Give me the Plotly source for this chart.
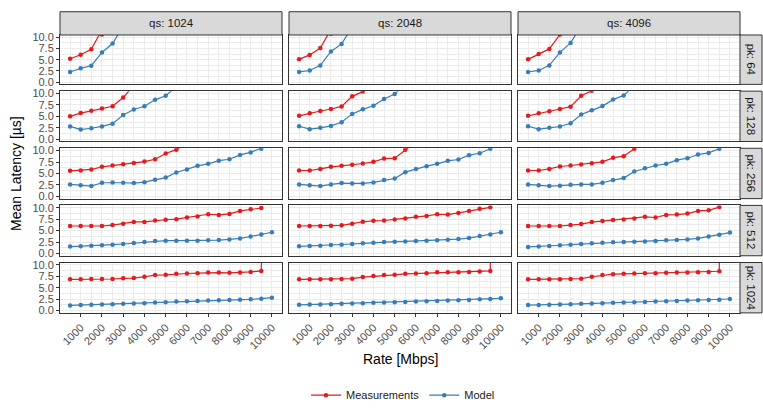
import plotly.graph_objects as go

# ---------------- data ----------------
rate = [500, 1000, 1500, 2000, 2500, 3000, 3500, 4000, 4500, 5000,
        5500, 6000, 6500, 7000, 7500, 8000, 8500, 9000, 9500, 10000]
rate_ticks = [1000, 2000, 3000, 4000, 5000, 6000, 7000, 8000, 9000, 10000]
qs_labels = ["qs: 1024", "qs: 2048", "qs: 4096"]
pk_labels = ["pk: 64", "pk: 128", "pk: 256", "pk: 512", "pk: 1024"]
series_names = ["Measurements", "Model"]

# pk 64
meas_pk64_qs1024 = [5.2, 6.1, 7.3, 10.6, 14.0, 17.5, 21.0, 25.0, 29.0, 33.0, 37.0, 41.0, 45.0, 50.0, 55.0, 60.0, 65.0, 70.0, 76.0, 82.0]
model_pk64_qs1024 = [2.25, 3.1, 3.66, 6.6, 8.6, 11.8, 14.5, 17.5, 20.5, 24.0, 27.5, 31.0, 35.0, 39.0, 43.0, 47.0, 51.0, 56.0, 61.0, 66.0]
meas_pk64_qs2048 = [5.07, 6.06, 7.6, 10.8, 14.0, 17.5, 21.0, 25.0, 29.0, 33.0, 37.0, 41.0, 45.0, 50.0, 55.0, 60.0, 65.0, 70.0, 76.0, 82.0]
model_pk64_qs2048 = [2.25, 2.6, 3.73, 6.83, 8.52, 11.4, 14.5, 17.5, 20.5, 24.0, 27.5, 31.0, 35.0, 39.0, 43.0, 47.0, 51.0, 56.0, 61.0, 66.0]
meas_pk64_qs4096 = [5.07, 6.27, 7.4, 10.6, 14.0, 17.5, 21.0, 25.0, 29.0, 33.0, 37.0, 41.0, 45.0, 50.0, 55.0, 60.0, 65.0, 70.0, 76.0, 82.0]
model_pk64_qs4096 = [2.25, 2.6, 3.73, 6.62, 8.73, 11.7, 14.5, 17.5, 20.5, 24.0, 27.5, 31.0, 35.0, 39.0, 43.0, 47.0, 51.0, 56.0, 61.0, 66.0]
# pk 128
meas_pk128_qs1024 = [5.0, 5.7, 6.2, 6.7, 7.2, 9.1, 11.3, 13.5, 16.0, 18.5, 21.0, 24.0, 27.0, 30.0, 33.0, 36.0, 40.0, 44.0, 48.0, 52.0]
model_pk128_qs1024 = [2.8, 2.1, 2.4, 2.8, 3.4, 5.3, 6.5, 7.2, 8.6, 9.5, 11.5, 13.0, 14.5, 16.0, 18.0, 20.0, 22.0, 24.0, 26.0, 28.0]
meas_pk128_qs2048 = [5.1, 5.67, 6.17, 6.6, 7.16, 9.36, 10.4, 12.0, 14.5, 17.0, 19.5, 22.0, 25.0, 28.0, 31.0, 34.0, 38.0, 42.0, 46.0, 50.0]
model_pk128_qs2048 = [2.84, 2.2, 2.48, 2.9, 3.69, 5.53, 6.52, 7.3, 8.8, 9.86, 12.1, 13.5, 15.0, 16.5, 18.5, 20.5, 22.5, 24.5, 26.5, 28.5]
meas_pk128_qs4096 = [5.1, 5.67, 6.1, 6.6, 7.1, 9.5, 10.6, 12.5, 15.0, 17.5, 20.0, 23.0, 26.0, 29.0, 32.0, 35.0, 39.0, 43.0, 47.0, 51.0]
model_pk128_qs4096 = [2.84, 2.2, 2.48, 2.77, 3.48, 5.39, 6.31, 7.23, 8.65, 9.57, 11.7, 13.0, 14.5, 16.0, 18.0, 20.0, 22.0, 24.0, 26.0, 28.0]
# pk 256
meas_pk256_qs1024 = [5.58, 5.65, 5.87, 6.45, 6.74, 7.03, 7.3, 7.6, 8.1, 9.35, 10.2, 11.3, 12.5, 14.0, 15.5, 17.0, 19.0, 21.0, 23.0, 25.0]
model_pk256_qs1024 = [2.6, 2.4, 2.25, 2.97, 3.04, 2.97, 2.9, 3.1, 3.6, 4.1, 5.2, 5.87, 6.67, 7.1, 7.8, 8.1, 9.05, 9.6, 10.4, 11.5]
meas_pk256_qs2048 = [5.65, 5.65, 6.0, 6.45, 6.67, 6.88, 7.17, 7.54, 8.26, 8.33, 10.2, 12.0, 13.5, 15.0, 16.5, 18.0, 20.0, 22.0, 24.0, 26.0]
model_pk256_qs2048 = [2.6, 2.4, 2.25, 2.6, 2.9, 2.83, 2.83, 3.04, 3.55, 3.9, 5.29, 6.0, 6.6, 7.1, 7.75, 8.04, 9.0, 9.42, 10.4, 11.8]
meas_pk256_qs4096 = [5.65, 5.65, 6.0, 6.52, 6.74, 6.96, 7.25, 7.54, 8.41, 8.77, 10.4, 12.5, 14.0, 15.5, 17.0, 18.5, 20.5, 22.5, 24.5, 26.5]
model_pk256_qs4096 = [2.6, 2.4, 2.25, 2.32, 2.54, 2.6, 2.6, 2.97, 3.55, 3.99, 5.43, 6.16, 6.74, 7.1, 7.9, 8.33, 9.13, 9.49, 10.4, 11.8]
# pk 512
meas_pk512_qs1024 = [6.0, 6.0, 6.0, 6.0, 6.2, 6.5, 6.9, 6.9, 7.2, 7.36, 7.5, 7.86, 8.07, 8.57, 8.43, 8.64, 9.3, 9.64, 9.93, None]
model_pk512_qs1024 = [1.5, 1.57, 1.71, 1.79, 1.93, 2.07, 2.29, 2.5, 2.71, 2.79, 2.79, 2.79, 2.79, 2.86, 2.93, 3.07, 3.29, 3.71, 4.14, 4.64]
meas_pk512_qs2048 = [6.0, 6.0, 6.0, 6.07, 6.14, 6.5, 6.93, 7.14, 7.2, 7.43, 7.64, 8.0, 8.2, 8.57, 8.5, 8.86, 9.29, 9.79, 10.07, None]
model_pk512_qs2048 = [1.57, 1.64, 1.71, 1.86, 1.93, 2.07, 2.21, 2.36, 2.5, 2.57, 2.64, 2.71, 2.79, 2.86, 3.0, 3.14, 3.36, 3.79, 4.14, 4.64]
meas_pk512_qs4096 = [6.0, 6.0, 6.0, 6.0, 6.21, 6.43, 6.86, 7.07, 7.29, 7.43, 7.64, 8.0, 7.86, 8.43, 8.5, 8.71, 9.29, 9.43, 10.14, None]
model_pk512_qs4096 = [1.43, 1.5, 1.64, 1.79, 1.93, 2.07, 2.21, 2.36, 2.43, 2.5, 2.57, 2.64, 2.71, 2.86, 2.93, 3.07, 3.29, 3.71, 4.07, 4.57]
# pk 1024
meas_pk1024_qs1024 = [6.83, 6.83, 6.9, 6.9, 6.9, 7.04, 7.1, 7.39, 7.75, 7.82, 8.03, 8.1, 8.17, 8.3, 8.3, 8.24, 8.3, 8.45, 8.66, 400.0]
model_pk1024_qs1024 = [1.13, 1.2, 1.27, 1.34, 1.41, 1.48, 1.55, 1.62, 1.76, 1.83, 1.97, 2.04, 2.11, 2.18, 2.25, 2.32, 2.39, 2.46, 2.6, 2.82]
meas_pk1024_qs2048 = [6.83, 6.83, 6.83, 6.83, 6.9, 6.97, 7.32, 7.54, 7.75, 7.82, 8.03, 8.1, 8.17, 8.38, 8.38, 8.38, 8.45, 8.52, 8.66, 400.0]
model_pk1024_qs2048 = [1.27, 1.34, 1.34, 1.41, 1.48, 1.55, 1.62, 1.69, 1.76, 1.83, 1.9, 1.97, 2.04, 2.11, 2.18, 2.25, 2.32, 2.46, 2.53, 2.68]
meas_pk1024_qs4096 = [6.83, 6.83, 6.83, 6.83, 6.9, 6.97, 7.39, 7.75, 7.96, 8.03, 8.1, 8.17, 8.17, 8.24, 8.31, 8.31, 8.38, 8.45, 8.59, 400.0]
model_pk1024_qs4096 = [1.2, 1.2, 1.27, 1.34, 1.41, 1.48, 1.55, 1.62, 1.69, 1.76, 1.83, 1.9, 1.97, 2.04, 2.11, 2.18, 2.25, 2.32, 2.39, 2.53]

meas = [
    [meas_pk64_qs1024, meas_pk64_qs2048, meas_pk64_qs4096],
    [meas_pk128_qs1024, meas_pk128_qs2048, meas_pk128_qs4096],
    [meas_pk256_qs1024, meas_pk256_qs2048, meas_pk256_qs4096],
    [meas_pk512_qs1024, meas_pk512_qs2048, meas_pk512_qs4096],
    [meas_pk1024_qs1024, meas_pk1024_qs2048, meas_pk1024_qs4096],
]
model = [
    [model_pk64_qs1024, model_pk64_qs2048, model_pk64_qs4096],
    [model_pk128_qs1024, model_pk128_qs2048, model_pk128_qs4096],
    [model_pk256_qs1024, model_pk256_qs2048, model_pk256_qs4096],
    [model_pk512_qs1024, model_pk512_qs2048, model_pk512_qs4096],
    [model_pk1024_qs1024, model_pk1024_qs2048, model_pk1024_qs4096],
]

# ---------------- layout geometry (pixels) ----------------
W, H = 763, 410
cols_px = [(60, 282), (289, 511), (518, 740)]
rows_px = [(32, 83), (90, 142), (149, 201), (208, 260), (267, 319)]
strip_top = (8, 32)
strip_right = (740, 762)

RED = "#E41A1C"
BLUE = "#377EB8"
FONT = "Liberation Sans, Arial, sans-serif"

fig = go.Figure()
layout = dict(
    width=W, height=H, margin=dict(l=0, r=0, t=0, b=0),
    paper_bgcolor="white", plot_bgcolor="white",
    font=dict(family=FONT, size=11, color="#4D4D4D"),
    showlegend=True,
    legend=dict(orientation="h", x=403 / W, xanchor="center", y=1 - 404 / H, yanchor="middle",
                font=dict(size=11, color="#1A1A1A"), itemwidth=30, tracegroupgap=0,
                bgcolor="rgba(0,0,0,0)"),
)
shapes = []
annotations = []

for r in range(5):
    for c in range(3):
        n = r * 3 + 1 + c
        xs = "" if n == 1 else str(n)
        xd = [cols_px[c][0] / W, cols_px[c][1] / W]
        yd = [1 - rows_px[r][1] / H, 1 - rows_px[r][0] / H]
        bottom = (r == 4)
        left = (c == 0)
        layout["xaxis" + xs] = dict(
            domain=xd, anchor="y" + xs, range=[25, 10475],
            tickmode="array", tickvals=rate_ticks, ticktext=[str(v) for v in rate_ticks],
            showticklabels=bottom, ticks="outside" if bottom else "", ticklen=3,
            tickcolor="#333333", tickangle=-45, tickfont=dict(size=11, color="#4D4D4D"),
            showgrid=True, gridcolor="#EBEBEB", gridwidth=1,
            minor=dict(tickmode="linear", tick0=500, dtick=1000, showgrid=True,
                       gridcolor="#EBEBEB", gridwidth=0.6, ticks=""),
            showline=True, mirror=True, linecolor="#333333", linewidth=1, zeroline=False,
        )
        layout["yaxis" + xs] = dict(
            domain=yd, anchor="x" + xs, range=[-0.5, 10.5],
            tickmode="array", tickvals=[0, 2.5, 5, 7.5, 10],
            ticktext=["0.0", "2.5", "5.0", "7.5", "10.0"],
            showticklabels=left, ticks="outside" if left else "", ticklen=3,
            tickcolor="#333333", tickfont=dict(size=11, color="#4D4D4D"),
            showgrid=True, gridcolor="#EBEBEB", gridwidth=1,
            minor=dict(tickmode="linear", tick0=1.25, dtick=2.5, showgrid=True,
                       gridcolor="#EBEBEB", gridwidth=0.6, ticks=""),
            showline=True, mirror=True, linecolor="#333333", linewidth=1, zeroline=False,
        )
        for vals, name, col in ((meas[r][c], series_names[0], RED), (model[r][c], series_names[1], BLUE)):
            fig.add_trace(go.Scatter(
                x=rate, y=vals, mode="lines+markers", name=name,
                line=dict(color=col, width=1.2), marker=dict(color=col, size=4.5),
                xaxis="x" + xs, yaxis="y" + xs, legendgroup=name,
                showlegend=(n == 1), cliponaxis=True, connectgaps=False,
            ))

# top strips
for c in range(3):
    shapes.append(dict(type="rect", xref="paper", yref="paper",
                       x0=cols_px[c][0] / W, x1=cols_px[c][1] / W,
                       y0=1 - strip_top[1] / H, y1=1 - strip_top[0] / H,
                       fillcolor="#D9D9D9", line=dict(color="#333333", width=1), layer="above"))
    annotations.append(dict(text=qs_labels[c], xref="paper", yref="paper",
                            x=(cols_px[c][0] + cols_px[c][1]) / 2 / W,
                            y=1 - (strip_top[0] + strip_top[1]) / 2 / H,
                            showarrow=False, xanchor="center", yanchor="middle",
                            font=dict(size=11.5, color="#1A1A1A")))
# right strips
for r in range(5):
    shapes.append(dict(type="rect", xref="paper", yref="paper",
                       x0=strip_right[0] / W, x1=strip_right[1] / W,
                       y0=1 - rows_px[r][1] / H, y1=1 - rows_px[r][0] / H,
                       fillcolor="#D9D9D9", line=dict(color="#333333", width=1), layer="above"))
    annotations.append(dict(text=pk_labels[r], xref="paper", yref="paper",
                            x=(strip_right[0] + strip_right[1]) / 2 / W,
                            y=1 - (rows_px[r][0] + rows_px[r][1]) / 2 / H,
                            showarrow=False, xanchor="center", yanchor="middle", textangle=90,
                            font=dict(size=11.5, color="#1A1A1A")))

annotations.append(dict(text="Rate [Mbps]", xref="paper", yref="paper",
                        x=400 / W, y=1 - 367 / H, showarrow=False,
                        xanchor="center", yanchor="middle",
                        font=dict(size=14, color="#000000")))
annotations.append(dict(text="Mean Latency [µs]", xref="paper", yref="paper",
                        x=16 / W, y=1 - 175.5 / H, showarrow=False, textangle=-90,
                        xanchor="center", yanchor="middle",
                        font=dict(size=14, color="#000000")))

layout["shapes"] = shapes
layout["annotations"] = annotations
fig.update_layout(**layout)
fig.write_html(
    "out.html",
    config={"displayModeBar": False},
    post_script="document.body.style.margin='0';document.body.style.overflow='hidden';",
)
